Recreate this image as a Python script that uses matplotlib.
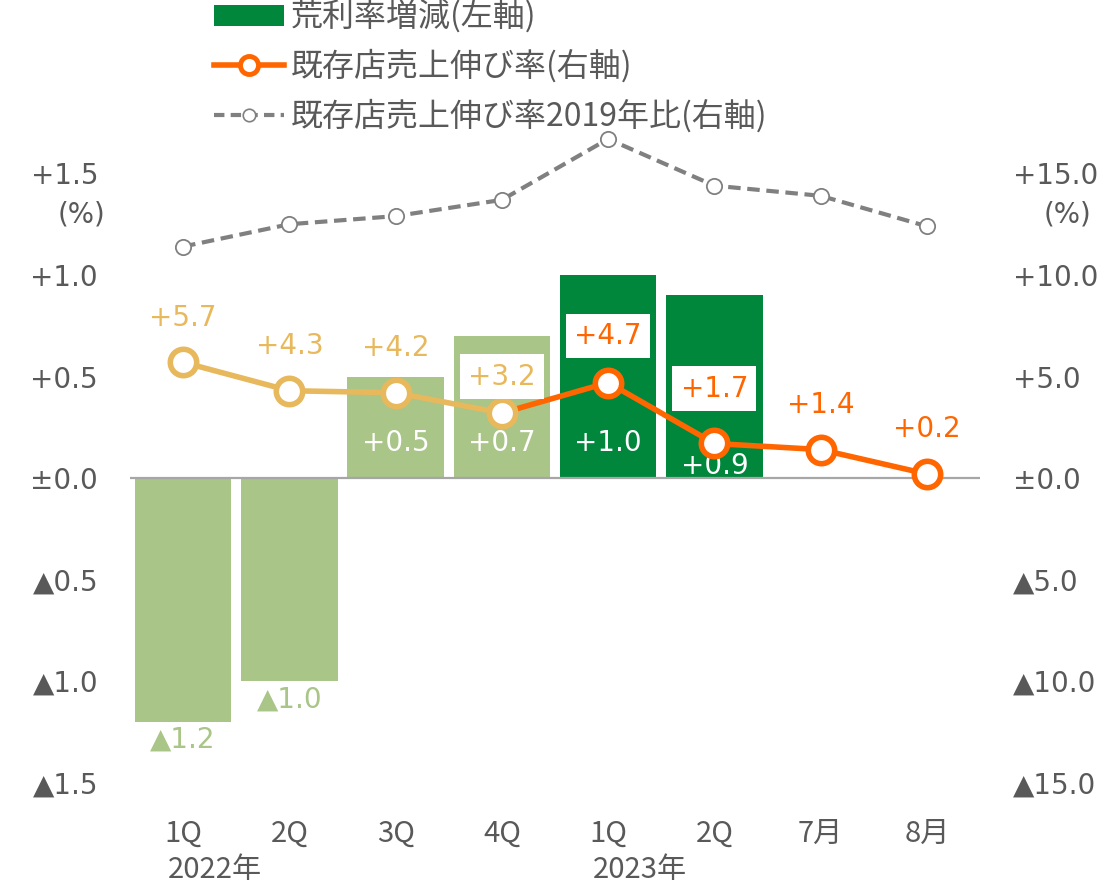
import matplotlib
matplotlib.use("Agg")
import matplotlib.pyplot as plt
from matplotlib.lines import Line2D
from matplotlib.patches import Patch
from matplotlib.transforms import blended_transform_factory

# numbers look Verdana-like -> DejaVu Sans, CJK falls back to Noto
plt.rcParams['font.family'] = ['DejaVu Sans', 'Noto Sans CJK JP']
CJK = ['Noto Sans CJK JP', 'DejaVu Sans']

# data
categories = ["1Q", "2Q", "3Q", "4Q", "1Q", "2Q", "7月", "8月"]
margin_diff = [-1.2, -1.0, 0.5, 0.7, 1.0, 0.9]          # left axis, %pt
sales_growth = [5.7, 4.3, 4.2, 3.2, 4.7, 1.7, 1.4, 0.2]  # right axis, %
sales_vs_2019 = [11.4, 12.5, 12.9, 13.7, 16.7, 14.4, 13.9, 12.4]
years = [(0, "2022年"), (4, "2023年")]

LIGHT_GREEN = "#A9C587"
DARK_GREEN = "#00873C"
GOLD = "#E8B85C"
ORANGE = "#FF6600"
GRAY = "#808080"
TXT = "#595959"
FS = 20


def fmt(v, nd=1):
    if abs(v) < 1e-9:
        return "±" + f"{0:.{nd}f}"
    return ("+" if v > 0 else "▲") + f"{abs(v):.{nd}f}"


fig = plt.figure(figsize=(11.16, 8.85), dpi=100)
ax = fig.add_axes([130 / 1116, 0.1043, 850 / 1116, 0.7685])
ax2 = ax.twinx()

x = list(range(len(categories)))
bar_colors = [LIGHT_GREEN] * 4 + [DARK_GREEN] * 2
ax.bar(x[:len(margin_diff)], margin_diff, width=0.91, color=bar_colors, zorder=2)
ax.axhline(0, color="#A6A6A6", lw=1.6, zorder=3)

ax.set_xlim(-0.5, len(categories) - 0.5)
ax.set_ylim(-1.55, 1.8)
ax2.set_ylim(-15.5, 18.0)

# bar labels
for i, v in enumerate(margin_diff):
    if v > 0:
        yoff = 0.17 if i != 5 else 0.06
        ax.text(i, yoff, fmt(v), ha="center", va="center", color="white",
                fontsize=FS, zorder=6)
    else:
        ax.text(i, v - 0.09, fmt(v), ha="center", va="center", color=LIGHT_GREEN,
                fontsize=FS, zorder=6)

# 2019 comparison dashed line
ax2.plot(x, sales_vs_2019, ls=(0, (3, 1.6)), color=GRAY, lw=3, marker="o",
         ms=11, mfc="white", mec=GRAY, mew=1.3, zorder=4, clip_on=False)

# sales growth line: gold for 2022, orange from 4Q->1Q onward
ax2.plot(x[:4], sales_growth[:4], color=GOLD, lw=4, zorder=5)
ax2.plot(x[3:], sales_growth[3:], color=ORANGE, lw=4, zorder=5)
ax2.plot(x[:4], sales_growth[:4], ls="none", marker="o", ms=19, mfc="white",
         mec=GOLD, mew=4, zorder=6)
ax2.plot(x[4:], sales_growth[4:], ls="none", marker="o", ms=19, mfc="white",
         mec=ORANGE, mew=4, zorder=6)

label_off = [2.2, 2.2, 2.2, 1.8, 2.3, 2.7, 2.2, 2.2]
boxed = {3, 4, 5}
for i, v in enumerate(sales_growth):
    c = GOLD if i < 4 else ORANGE
    kw = {}
    if i in boxed:
        kw["bbox"] = dict(boxstyle="square,pad=0.3", fc="white", ec="none")
    ax2.text(i, v + label_off[i], fmt(v), ha="center", va="center", color=c,
             fontsize=FS, zorder=7, **kw)

# axes styling
for a in (ax, ax2):
    for s in a.spines.values():
        s.set_visible(False)
ax.set_xticks(x)
ax.set_xticklabels(categories, fontsize=21, color=TXT, family=CJK)
ax.tick_params(axis="x", length=0, pad=19)

lt = [-1.5, -1.0, -0.5, 0.0, 0.5, 1.0, 1.5]
ax.set_yticks(lt)
ax.set_yticklabels([fmt(v) for v in lt], fontsize=FS, color=TXT)
ax.tick_params(axis="y", length=0, pad=23)

rt = [-15, -10, -5, 0, 5, 10, 15]
ax2.set_yticks(rt)
ax2.set_yticklabels([fmt(v) for v in rt], fontsize=FS, color=TXT)
ax2.tick_params(axis="y", length=0, pad=24)

fig.text(82 / 1116, 1 - 215 / 885, "(%)", ha="center", va="center", fontsize=FS, color=TXT)
fig.text(1068 / 1116, 1 - 215 / 885, "(%)", ha="center", va="center", fontsize=FS, color=TXT)

tr = blended_transform_factory(ax.transData, fig.transFigure)
for pos, lab in years:
    ax.text(pos + 0.3, 1 - 870 / 885, lab, transform=tr, ha="center", va="center",
            fontsize=21, color=TXT, family=CJK)

handles = [
    Patch(facecolor=DARK_GREEN, edgecolor="none"),
    Line2D([], [], color=ORANGE, lw=4, marker="o", ms=13, mfc="white", mec=ORANGE, mew=3.5),
    Line2D([], [], color=GRAY, lw=3, ls=(0, (2.5, 1.5)), marker="o", ms=9, mfc="white",
           mec=GRAY, mew=1.2),
]
labels = ["荒利率増減(左軸)", "既存店売上伸び率(右軸)", "既存店売上伸び率2019年比(右軸)"]
leg = fig.legend(handles, labels, loc="upper left", bbox_to_anchor=(201 / 1116, 1.014),
                 frameon=False, prop={"family": CJK, "size": 23}, handlelength=2.2,
                 handleheight=0.65, labelspacing=0.5, handletextpad=0.2, borderaxespad=0)
for t in leg.get_texts():
    t.set_color(TXT)

fig.savefig("out.png", dpi=100)
